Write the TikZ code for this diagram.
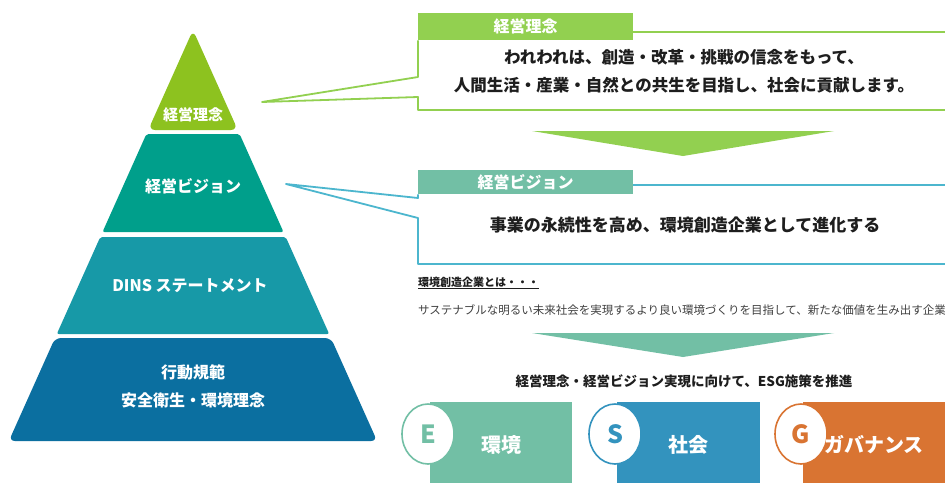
\documentclass[tikz,border=0pt]{standalone}
\usepackage{fontspec}
\setmainfont{Noto Sans CJK JP}
\usetikzlibrary{calc,positioning,shapes.geometric}

\definecolor{tierA}{HTML}{8DC21F}
\definecolor{tierB}{HTML}{009F8B}
\definecolor{tierC}{HTML}{1799A7}
\definecolor{tierD}{HTML}{0B6FA0}
\definecolor{lime}{HTML}{92D050}
\definecolor{mint}{HTML}{72BFA5}
\definecolor{sky}{HTML}{4CB6CE}
\definecolor{esgS}{HTML}{3393BE}
\definecolor{esgG}{HTML}{D97432}
\definecolor{ink}{HTML}{1E1E1E}

\tikzset{
  tiertext/.style={text=white,align=center,font=\bfseries\fontsize{16}{28}\selectfont},
  headbox/.style={anchor=north west,minimum width=215pt,inner sep=0pt,text=white,font=\bfseries\fontsize{16}{18}\selectfont},
  bodytext/.style={text=ink,align=center,font=\bfseries\fontsize{16.5}{28}\selectfont},
  callout/.style={line width=1.8pt,line join=round},
  badge/.style={ellipse,fill=white,line width=1.6pt,minimum width=52pt,minimum height=60pt,inner sep=0pt,font=\bfseries\fontsize{25}{25}\selectfont}
}

\begin{document}
\begin{tikzpicture}[x=1pt,y=-1pt]
\useasboundingbox (0,0) rectangle (945,482);
\clip (0,0) rectangle (945,482);
\fill[white] (0,0) rectangle (945,482);
\def\sl{0.448}

% pyramid
\fill[tierA,rounded corners=7pt] (193,30) -- ({193+\sl*100},130) -- ({193-\sl*100},130) -- cycle;
\foreach \t/\b/\c/\rc in {134/232/tierB/2pt,237/334/tierC/2pt,338/441/tierD/6pt}
  \fill[\c,rounded corners=\rc] ({193-\sl*(\t-30)},\t) -- ({193+\sl*(\t-30)},\t)
    -- ({193+\sl*(\b-30)},\b) -- ({193-\sl*(\b-30)},\b) -- cycle;
\node[tiertext,font=\bfseries\fontsize{15}{18}\selectfont] (lvlA) at (193,115) {経営理念};
\node[tiertext] (lvlB) at (193,186) {経営ビジョン};
\node[tiertext] (lvlC) at (190,286) {DINS ステートメント};
\node[tiertext] (lvlD) at (193,386) {行動規範\\安全衛生・環境理念};

\coordinate (tipA) at (262,102);
\coordinate (tipB) at (286,184);

% 経営理念
\node[headbox,fill=lime,minimum height=27pt] (headA) at (418,13) {経営理念};
\draw[lime,callout] (headA.south west) -- (418,77) -- (tipA) -- (418,97)
  -- (418,110) -- (950,110) -- (950,32) -- (633,32);
\node[bodytext] (textA) at (684,71) {われわれは、創造・改革・挑戦の信念をもって、\\人間生活・産業・自然との共生を目指し、社会に貢献します。};
\fill[lime] (532,131) -- (834,131) -- (683,156) -- cycle;

% 経営ビジョン
\node[headbox,fill=mint,minimum height=24pt] (headB) at (418,170) {経営ビジョン};
\draw[sky,callout] (headB.south west) -- (418,198) -- (tipB) -- (418,218)
  -- (418,264) -- (950,264) -- (950,185) -- (633,185);
\node[bodytext,font=\bfseries\fontsize{17}{20}\selectfont] (textB) at (685,225) {事業の永続性を高め、環境創造企業として進化する};

\node[anchor=west,inner sep=0pt,text=ink,font=\bfseries\fontsize{11}{13}\selectfont] (noteHead) at (418,283) {\underline{環境創造企業とは・・・}};
\node[anchor=west,inner sep=0pt,text=ink!85,font=\fontsize{11.5}{13}\selectfont] (noteBody) at (418,310) {サステナブルな明るい未来社会を実現するより良い環境づくりを目指して、新たな価値を生み出す企業};
\fill[mint] (532,333) -- (834,333) -- (683,357) -- cycle;

% ESG
\node[text=ink,font=\bfseries\fontsize{13.5}{15}\selectfont] (esgHead) at (684,381) {経営理念・経営ビジョン実現に向けて、ESG施策を推進};
\foreach \x/\w/\c/\l/\t [count=\i] in {430/142/mint/E/環境,617/143/esgS/S/社会,803/160/esgG/G/ガバナンス}{
  \fill[\c] (\x,402) rectangle ++(\w,90);
  \node[badge,draw=\c,text=\c] (badge\i) at (\x-2,434) {\l};
  \node[text=white,font=\bfseries\fontsize{20}{22}\selectfont] (pillar\i) at (\x+71,445) {\t};
}
\end{tikzpicture}
\end{document}
